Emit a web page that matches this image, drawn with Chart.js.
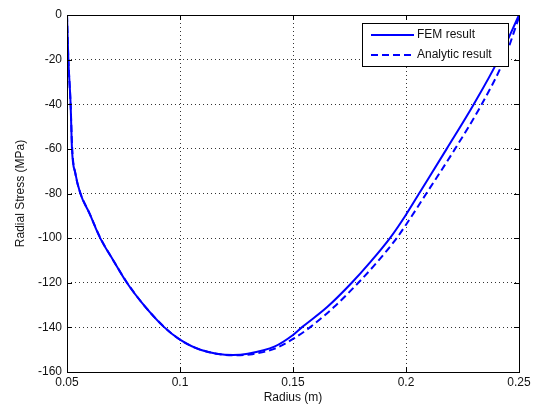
<!DOCTYPE html>
<html>
<head>
<meta charset="utf-8">
<script src="https://cdn.jsdelivr.net/npm/chart.js@4/dist/chart.umd.min.js"></script>
<style>
  html, body { margin: 0; padding: 0; background: #fff; }
  #wrap { width: 537px; height: 409px; }
</style>
</head>
<body>
<div id="wrap"><canvas id="stressChart"></canvas></div>
<script>
// values
const femRadius = [0.05, 0.0506, 0.0516, 0.0522, 0.0537, 0.0559, 0.0600, 0.0647, 0.0705, 0.0765, 0.0840, 0.0931,
    0.1000, 0.1090, 0.1235, 0.1300, 0.1420, 0.1500, 0.1539, 0.1650, 0.1760, 0.1840, 0.1929, 0.2000, 0.2058,
    0.2180, 0.2300, 0.2409, 0.2500];
const femStress = [0, -20, -40, -60, -71, -80, -89, -100, -110, -120, -130, -140,
    -145.5, -150, -152.4, -151.8, -148.5, -143.4, -140, -131, -120, -111, -100, -89.5, -80,
    -60, -40, -20, 0];

const analyticRadius = [0.05, 0.0506, 0.0516, 0.0523, 0.0537, 0.0560, 0.0600, 0.0648, 0.0705, 0.0766, 0.0840, 0.0932,
    0.1000, 0.1090, 0.1240, 0.1320, 0.1420, 0.1500, 0.1575, 0.1680, 0.1789, 0.1870, 0.1959, 0.2000, 0.2090,
    0.2217, 0.2335, 0.2434, 0.2500];
const analyticStress = [0, -20, -40, -60, -71, -80, -89, -100, -110, -120, -130, -140,
    -145.5, -150, -152.5, -152, -149.5, -145.2, -140, -131, -120, -111, -100, -94, -80,
    -60, -40, -20, -1];

const xTicks = [0.05, 0.1, 0.15, 0.2, 0.25];
const yTicks = [0, -20, -40, -60, -80, -100, -120, -140, -160];

function toPoints(xs, ys) {
    return xs.map((x, i) => ({ x: x, y: ys[i] }));
}

const FONT = { family: '"Liberation Sans", Arial, sans-serif', size: 12 };

// box round the plot, inward ticks, and a legend inside the axes (matlab look)
const matlabAxes = {
    id: 'matlabAxes',
    afterDraw(chart) {
        const c = chart.ctx;
        const a = chart.chartArea;
        const xs = chart.scales.x, ys = chart.scales.y;
        c.save();
        c.strokeStyle = '#000';
        c.lineWidth = 1;
        c.setLineDash([]);
        c.beginPath();
        xTicks.forEach(v => {
            const px = Math.round(xs.getPixelForValue(v)) + 0.5;
            c.moveTo(px, a.bottom); c.lineTo(px, a.bottom - 5);
            c.moveTo(px, a.top); c.lineTo(px, a.top + 5);
        });
        yTicks.forEach(v => {
            const py = Math.round(ys.getPixelForValue(v)) + 0.5;
            c.moveTo(a.left, py); c.lineTo(a.left + 5, py);
            c.moveTo(a.right, py); c.lineTo(a.right - 5, py);
        });
        c.stroke();
        c.strokeRect(Math.round(a.left) + 0.5, Math.round(a.top) + 0.5,
            Math.round(a.right - a.left), Math.round(a.bottom - a.top));

        // legend
        const bx = 362, by = 23, bw = 146, bh = 43;
        c.fillStyle = '#fff';
        c.fillRect(bx, by, bw, bh);
        c.strokeRect(bx + 0.5, by + 0.5, bw, bh);
        c.font = '12px "Liberation Sans", Arial, sans-serif';
        c.textBaseline = 'middle';
        chart.data.datasets.forEach((ds, i) => {
            const ly = by + 12 + i * 20;
            c.strokeStyle = ds.borderColor;
            c.lineWidth = ds.borderWidth;
            c.setLineDash(ds.borderDash || []);
            c.beginPath();
            c.moveTo(bx + 9, ly); c.lineTo(bx + 52, ly);
            c.stroke();
            c.setLineDash([]);
            c.fillStyle = '#111';
            c.fillText(ds.label, bx + 55, ly);
        });
        c.restore();
    }
};

const ctx = document.getElementById('stressChart').getContext('2d');
const chart = new Chart(ctx, {
    type: 'line',
    data: {
        datasets: [{
            label: 'FEM result',
            data: toPoints(femRadius, femStress),
            borderColor: '#0000ff',
            borderWidth: 2,
            pointRadius: 0,
            cubicInterpolationMode: 'monotone',
            fill: false
        }, {
            label: 'Analytic result',
            data: toPoints(analyticRadius, analyticStress),
            borderColor: '#0000ff',
            borderWidth: 2,
            borderDash: [7, 4],
            pointRadius: 0,
            cubicInterpolationMode: 'monotone',
            fill: false
        }]
    },
    options: {
        responsive: true,
        maintainAspectRatio: false,
        animation: false,
        layout: { padding: { top: 15, right: 18, left: 0, bottom: 0 } },
        plugins: {
            legend: { display: false },
            tooltip: { enabled: false }
        },
        scales: {
            x: {
                type: 'linear',
                min: 0.05,
                max: 0.25,
                afterFit: s => { s.height = 37; },
                afterBuildTicks: s => { s.ticks = xTicks.map(v => ({ value: v })); },
                ticks: {
                    color: '#111',
                    font: FONT,
                    padding: 3,
                    maxRotation: 0,
                    callback: v => String(v)
                },
                grid: { color: '#333', drawTicks: false },
                border: { display: false, dash: [1, 3] },
                title: {
                    display: true,
                    text: 'Radius (m)',
                    color: '#111',
                    font: FONT,
                    padding: { top: 0, bottom: 4 }
                }
            },
            y: {
                type: 'linear',
                min: -160,
                max: 0,
                afterFit: s => { s.width = 67; },
                afterBuildTicks: s => { s.ticks = yTicks.map(v => ({ value: v })); },
                ticks: {
                    color: '#111',
                    font: FONT,
                    padding: 5
                },
                grid: { color: '#333', drawTicks: false },
                border: { display: false, dash: [1, 3] },
                title: {
                    display: true,
                    text: 'Radial Stress (MPa)',
                    color: '#111',
                    font: FONT,
                    padding: { top: 13, bottom: 0 }
                }
            }
        }
    },
    plugins: [matlabAxes]
});
</script>
</body>
</html>
